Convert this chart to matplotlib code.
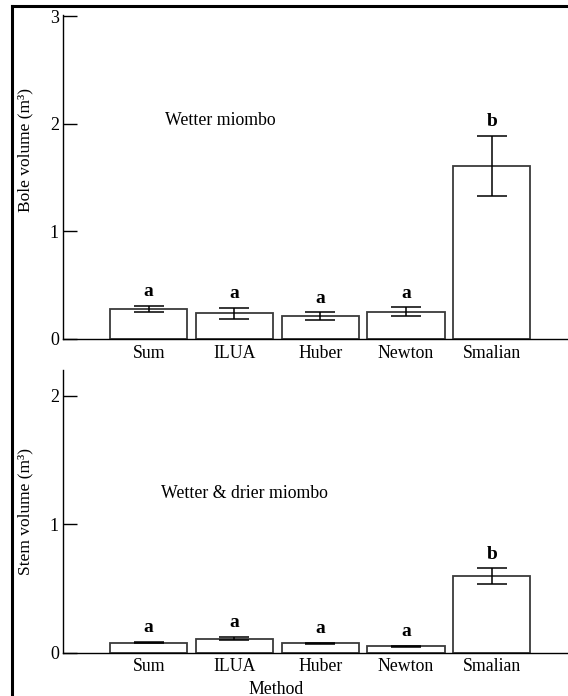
import matplotlib
matplotlib.use('Agg')
import matplotlib.pyplot as plt
from matplotlib.lines import Line2D

plt.rcParams['font.family'] = ['Liberation Serif', 'DejaVu Serif']

methods = ['Sum', 'ILUA', 'Huber', 'Newton', 'Smalian']
letters = ['a', 'a', 'a', 'a', 'b']

# Wetter miombo, bole volume (m3)
bole_mean = [0.28, 0.24, 0.215, 0.253, 1.61]
bole_err = [0.03, 0.05, 0.035, 0.04, 0.28]

# Wetter & drier miombo, stem volume (m3)
stem_mean = [0.078, 0.109, 0.073, 0.050, 0.598]
stem_err = [0.005, 0.014, 0.004, 0.003, 0.06]

fig = plt.figure(figsize=(5.68, 6.96), dpi=100)

# outer frame (top + left only)
fig.add_artist(Line2D([12 / 568, 12 / 568], [0, 1 - 6 / 696], color='black', lw=2.2))
fig.add_artist(Line2D([12 / 568, 1], [1 - 6 / 696, 1 - 6 / 696], color='black', lw=2.2))


def panel(ax, means, errs, ylim, yticks, ylabel, label_y, title, title_xy):
    x = range(1, len(methods) + 1)
    ax.bar(x, means, width=0.9, color='white', edgecolor='#3a3a3a', linewidth=1.3)
    ax.errorbar(x, means, yerr=errs, fmt='none', ecolor='black', elinewidth=1.1,
                capsize=11, capthick=1.1)
    for xi, m, e, l in zip(x, means, errs, letters):
        ax.annotate(l, (xi, m + e), xytext=(0, 4), textcoords='offset points',
                    ha='center', va='bottom', fontsize=14, fontweight='bold')
    ax.set_xlim(0, 5.89)
    ax.set_ylim(*ylim)
    ax.set_yticks(yticks)
    ax.set_xticks(list(x))
    ax.set_xticklabels(methods, fontsize=12.8)
    ax.tick_params(axis='x', length=0, pad=4)
    ax.tick_params(axis='y', direction='in', length=10, width=1, labelsize=13, pad=3)
    ax.spines['top'].set_visible(False)
    ax.spines['right'].set_visible(False)
    ax.spines['left'].set_linewidth(1)
    ax.spines['bottom'].set_linewidth(1)
    ax.set_ylabel(ylabel, fontsize=12.5)
    ax.yaxis.set_label_coords(-0.059, label_y)
    ax.text(title_xy[0], title_xy[1], title, fontsize=12.8, ha='left', va='center')


ax1 = fig.add_axes([63 / 568, 1 - 339 / 696, 1 - 63 / 568, (339 - 15) / 696])
panel(ax1, bole_mean, bole_err, (0, 3.01), [0, 1, 2, 3], 'Bole volume (m³)', 0.583,
      'Wetter miombo', (1.19, 2.03))

ax2 = fig.add_axes([63 / 568, 1 - 652.7 / 696, 1 - 63 / 568, (652.7 - 370) / 696])
panel(ax2, stem_mean, stem_err, (0, 2.2), [0, 1, 2], 'Stem volume (m³)', 0.5,
      'Wetter & drier miombo', (1.14, 1.24))
fig.text(276 / 568, 1 - 689 / 696, 'Method', ha='center', va='center', fontsize=12.8)

fig.savefig('out.png', dpi=100)
